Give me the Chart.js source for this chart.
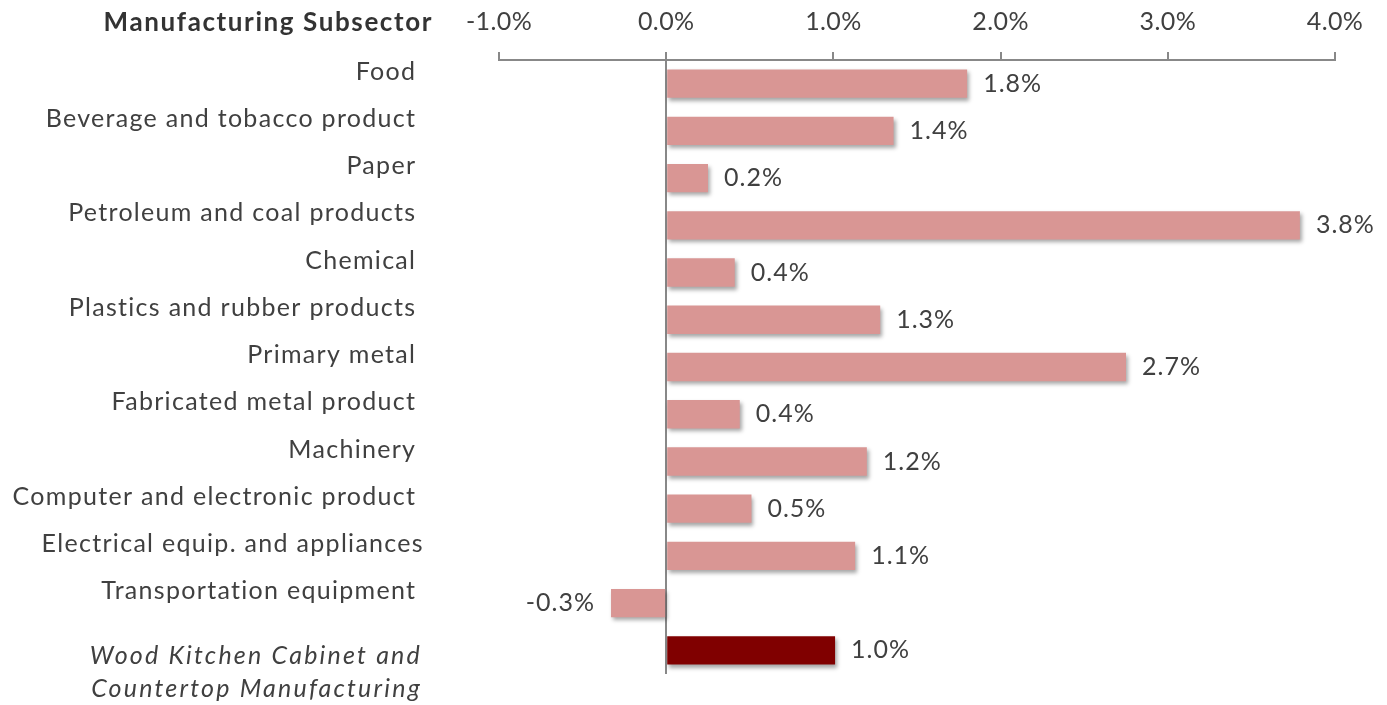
<!DOCTYPE html>
<html>
<head>
<meta charset="utf-8">
<script src="https://cdn.jsdelivr.net/npm/chart.js@4.4.1/dist/chart.umd.min.js"></script>
<style>
  html, body { margin: 0; padding: 0; background: #fff; }
  #wrap { width: 1387px; height: 705px; position: relative; }
</style>
</head>
<body>
<div id="wrap"><canvas id="barGraph"></canvas></div>
<script>
// chart data (trailing spaces kept as in the source labels)
const categories = [
    "Food ",
    "Beverage and tobacco product ",
    "Paper ",
    "Petroleum and coal products ",
    "Chemical ",
    "Plastics and rubber products ",
    "Primary metal ",
    "Fabricated metal product ",
    "Machinery ",
    "Computer and electronic product ",
    "Electrical equip. and appliances",
    "Transportation equipment ",
    ["Wood Kitchen Cabinet and", "Countertop Manufacturing"]
];
const growthPct = [1.8, 1.36, 0.25, 3.79, 0.41, 1.28, 2.75, 0.44, 1.2, 0.51, 1.13, -0.33, 1.01];
const valueLabels = ["1.8%", "1.4%", "0.2%", "3.8%", "0.4%", "1.3%", "2.7%", "0.4%", "1.2%", "0.5%", "1.1%", "-0.3%", "1.0%"];
const axisTitle = "Manufacturing Subsector";

const FONT = "Lato, 'Open Sans', sans-serif";
const TEXT = "#404040";
const barColors = growthPct.map((v, i) => i === growthPct.length - 1 ? "#800000" : "#D99694");

// bar shadow, category labels, value labels, title
const decorations = {
    id: "decorations",
    beforeDraw(chart) {
        // the reference text is set a little loose
        chart.ctx.letterSpacing = "0.4px";
    },
    beforeDatasetsDraw(chart) {
        const ctx = chart.ctx;
        ctx.save();
        ctx.shadowColor = "rgba(0,0,0,0.35)";
        ctx.shadowBlur = 4;
        ctx.shadowOffsetX = 2;
        ctx.shadowOffsetY = 3;
    },
    afterDatasetsDraw(chart) {
        const ctx = chart.ctx;
        ctx.restore();
        const yScale = chart.scales.y;
        const meta = chart.getDatasetMeta(0);

        ctx.save();
        ctx.fillStyle = TEXT;
        ctx.textBaseline = "middle";

        // category labels
        categories.forEach((lab, i) => {
            const yc = yScale.getPixelForValue(i);
            ctx.textAlign = "right";
            if (Array.isArray(lab)) {
                ctx.font = "italic 25px " + FONT;
                ctx.letterSpacing = "2.2px";
                lab.forEach((line, k) => ctx.fillText(line, 422, yc + 6 + k * 33));
            } else {
                ctx.font = "25px " + FONT;
                ctx.letterSpacing = "1.3px";
                ctx.fillText(lab, 424, yc - 12);
            }
        });

        // value labels
        ctx.font = "25px " + FONT;
        ctx.letterSpacing = "1px";
        meta.data.forEach((bar, i) => {
            if (growthPct[i] < 0) {
                ctx.textAlign = "right";
                ctx.fillText(valueLabels[i], bar.x - 16, bar.y);
            } else {
                ctx.textAlign = "left";
                ctx.fillText(valueLabels[i], bar.x + 16, bar.y);
            }
        });

        // title
        ctx.font = "bold 26px " + FONT;
        ctx.letterSpacing = "1.6px";
        ctx.fillStyle = "#333";
        ctx.textAlign = "right";
        ctx.fillText(axisTitle, 433, 23);
        ctx.restore();
    }
};

document.addEventListener("DOMContentLoaded", () => {
    const el = document.getElementById("barGraph");
    new Chart(el, {
        type: "bar",
        data: {
            labels: categories,
            datasets: [{
                data: growthPct,
                backgroundColor: barColors,
                borderWidth: 0,
                barPercentage: 0.6,
                categoryPercentage: 1.0
            }]
        },
        options: {
            indexAxis: "y", // horizontal bars
            responsive: true,
            maintainAspectRatio: false,
            animation: false,
            layout: { padding: { left: 0, right: 52, top: 0, bottom: 31 } },
            plugins: {
                legend: { display: false },
                tooltip: { enabled: false }
            },
            scales: {
                x: {
                    position: "top",
                    min: -1,
                    max: 4,
                    afterFit: (s) => { s.height = 60; },
                    ticks: {
                        stepSize: 1,
                        padding: 15,
                        color: TEXT,
                        font: { family: FONT, size: 25 },
                        callback: (v) => v.toFixed(1) + "%"
                    },
                    grid: {
                        drawOnChartArea: true,
                        lineWidth: 2,
                        tickLength: 8,
                        tickColor: "#888",
                        color: (c) => (c.tick && c.tick.value === 0) ? "#888" : "rgba(0,0,0,0)"
                    },
                    border: { display: true, color: "#888", width: 2 }
                },
                y: {
                    afterFit: (s) => { s.width = 499; },
                    ticks: { display: false },
                    grid: { display: false },
                    border: { display: false }
                }
            }
        },
        plugins: [decorations]
    });
});
</script>
</body>
</html>
